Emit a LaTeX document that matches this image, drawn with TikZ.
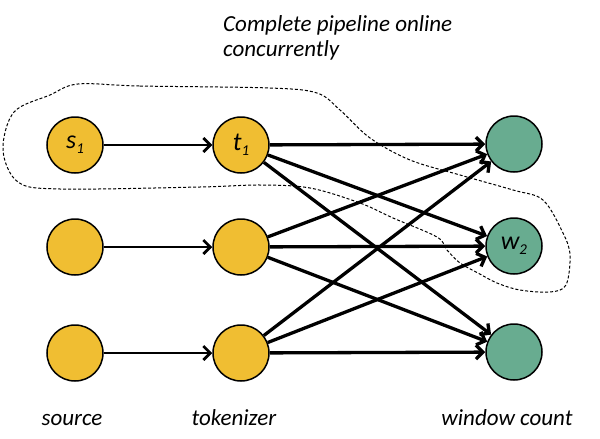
\documentclass[tikz,border=0pt]{standalone}
\usepackage{fontspec}
\setmainfont{Carlito}
\usetikzlibrary{arrows.meta}
\definecolor{ny}{RGB}{240,190,50}
\definecolor{ng}{RGB}{104,172,144}
\newcommand{\nlab}[2]{\itshape #1\raisebox{-5pt}{\fontsize{15}{15}\selectfont #2}}
\begin{document}
\begin{tikzpicture}[x=1pt,y=-1pt,
  yel/.style={circle,draw=black,line width=1.5pt,fill=ny,minimum size=56pt,inner sep=0pt,font=\fontsize{26}{27}\selectfont},
  grn/.style={circle,draw=black,line width=1.5pt,fill=ng,minimum size=56pt,inner sep=0pt,font=\fontsize{26}{27}\selectfont},
  lab/.style={font=\itshape\fontsize{23}{26}\selectfont,inner sep=0pt},
  thinarr/.style={line width=2.7pt,-{Straight Barb[length=7pt,width=14pt,line width=2.7pt]}},
  fanarr/.style={line width=3.3pt,-{Straight Barb[length=7pt,width=14pt,line width=3.3pt]}}]
\useasboundingbox (0,0) rectangle (600,439);
\node[yel] (s1) at (75,145) {\nlab{s}{1}};
\node[yel] (s2) at (75,247) {};
\node[yel] (s3) at (75,353) {};
\node[yel] (t1) at (241,145) {\nlab{t}{1}};
\node[yel] (t2) at (241,247) {};
\node[yel] (t3) at (241,353) {};
\node[grn] (w1) at (514,144) {};
\node[grn] (w2) at (514,246) {\nlab{w}{2}};
\node[grn] (w3) at (514,352) {};
\foreach \i in {1,2,3} {\draw[thinarr] (s\i) -- (t\i);}
\foreach \i in {1,2,3} {\foreach \j in {1,2,3} {\draw[fanarr] (t\i) -- (w\j);}}
\draw[dash pattern=on 3pt off 2pt,line width=1pt] plot[smooth cycle,tension=0.55] coordinates {
 (78,84) (140,86) (270,88) (317,93) (340,110) (370,138) (410,160) (460,175)
 (513,190) (543,200) (563,233) (570,255) (566,285) (550,292) (520,290) (497,283)
 (478,273) (460,263) (447,250) (437,237) (393,218) (360,203) (310,188) (260,185)
 (200,187) (60,189) (18,182) (3,150) (14,112) (50,95)};
\node[lab,anchor=base west] (title) at (223,31) {Complete pipeline online};
\node[lab,anchor=base west] (title2) at (223,56) {concurrently};
\node[lab,anchor=base] (src) at (72,425) {source};
\node[lab,anchor=base] (tok) at (234,425) {tokenizer};
\node[lab,anchor=base] (win) at (507,425) {window count};
\end{tikzpicture}
\end{document}
